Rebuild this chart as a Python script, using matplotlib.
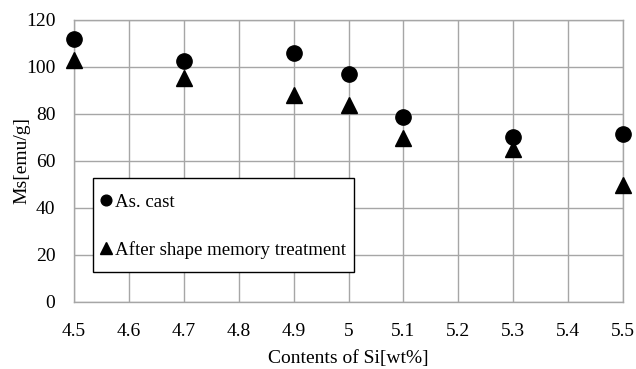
import matplotlib.pyplot as plt
from matplotlib.patches import Rectangle

plt.rcParams['font.family'] = ['Liberation Serif', 'DejaVu Serif']

si = [4.5, 4.7, 4.9, 5.0, 5.1, 5.3, 5.5]
as_cast = [111.6, 102.5, 105.6, 96.8, 78.4, 70.2, 71.2]
after_sm = [102.8, 95.3, 87.8, 83.6, 69.5, 65.0, 49.5]

xticks = [4.5, 4.6, 4.7, 4.8, 4.9, 5.0, 5.1, 5.2, 5.3, 5.4, 5.5]
xlabels = ['4.5', '4.6', '4.7', '4.8', '4.9', '5', '5.1', '5.2', '5.3', '5.4', '5.5']
yticks = [0, 20, 40, 60, 80, 100, 120]

fig = plt.figure(figsize=(6.36, 3.69), dpi=100)
ax = fig.add_axes([0.1164, 0.1824, 0.8632, 0.7646])

ax.plot(si, as_cast, 'o', color='black', markersize=11, label='As. cast', clip_on=False, zorder=3)
ax.plot(si, after_sm, '^', color='black', markersize=12, label='After shape memory treatment', clip_on=False, zorder=3)

ax.set_xlim(4.5, 5.5)
ax.set_ylim(0, 120)
ax.set_xticks(xticks)
ax.set_xticklabels(xlabels)
ax.set_yticks(yticks)
ax.tick_params(length=0, labelsize=14)
ax.tick_params(axis='x', pad=15.5)
ax.tick_params(axis='y', pad=13.5)
ax.grid(True, color='#a6a6a6', linewidth=1)
for s in ax.spines.values():
    s.set_color('#a6a6a6')
    s.set_linewidth(1)

ax.set_xlabel('Contents of Si[wt%]', fontsize=14, labelpad=7)
ax.set_ylabel('Ms[emu/g]', fontsize=14)
ax.yaxis.set_label_coords(-0.08, 0.5)

# legend box drawn as its own white rectangle with a black edge
box = Rectangle((0.034, 0.104), 0.4766, 0.334, transform=ax.transAxes,
                facecolor='white', edgecolor='black', linewidth=1, zorder=4)
ax.add_patch(box)
leg = ax.legend(loc='center left', bbox_to_anchor=(0.0492, 0.2675), fontsize=13.6,
                frameon=False, labelspacing=1.6, handlelength=0.5,
                handletextpad=0.25, borderpad=0, borderaxespad=0, markerscale=0.7)
leg.set_zorder(5)

fig.savefig('out.png', dpi=100)
